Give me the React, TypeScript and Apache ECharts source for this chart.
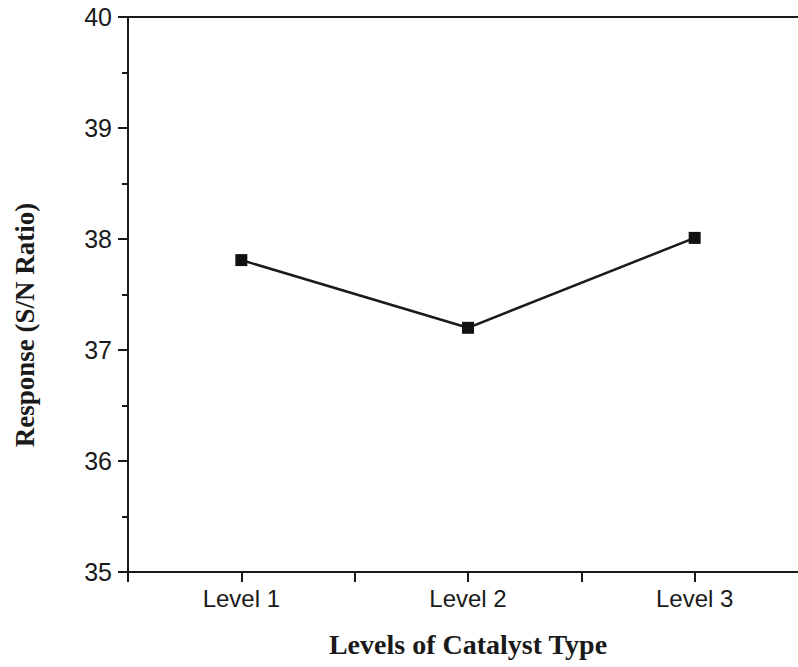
import React, { useEffect, useRef } from "react";
import * as echarts from "echarts";

const categories = ["Level 1", "Level 2", "Level 3"];
const responseValues = [37.81, 37.2, 38.01];
const yTicks = [35, 36, 37, 38, 39, 40];

export default function App() {
  const ref = useRef<HTMLDivElement>(null);
  useEffect(() => {
    if (!ref.current) return;
    const chart = echarts.init(ref.current, null, { renderer: "svg" });
    const ink = "#1a1a1a";
    const data = responseValues.map((v, i) => [i + 1, v]);
    chart.setOption({
      animation: false,
      backgroundColor: "#ffffff",
      grid: { left: 128, top: 17, right: 22, bottom: 95, show: true, borderColor: ink, borderWidth: 2 },
      xAxis: {
        type: "value",
        min: 0.5,
        max: 3.5,
        interval: 0.5,
        name: "Levels of Catalyst Type",
        nameLocation: "middle",
        nameGap: 58,
        nameTextStyle: { fontFamily: "Liberation Serif", fontWeight: "bold", fontSize: 28, color: ink },
        axisLine: { show: true, lineStyle: { color: ink, width: 2 } },
        axisTick: { show: true, inside: false, length: 10, lineStyle: { color: ink, width: 2 } },
        splitLine: { show: false },
        axisLabel: {
          margin: 14,
          fontFamily: "Liberation Sans",
          fontSize: 24,
          color: ink,
          formatter: (v: number) => (Number.isInteger(v) && v >= 1 && v <= categories.length ? categories[v - 1] : ""),
        },
      },
      yAxis: {
        type: "value",
        min: yTicks[0],
        max: yTicks[yTicks.length - 1],
        interval: 1,
        axisLine: { show: true, lineStyle: { color: ink, width: 2 } },
        axisTick: { show: true, inside: false, length: 10, lineStyle: { color: ink, width: 2 } },
        minorTick: { show: true, splitNumber: 2, length: 6, lineStyle: { color: ink, width: 2 } },
        splitLine: { show: false },
        axisLabel: { margin: 16, fontFamily: "Liberation Sans", fontSize: 25, color: ink },
      },
      graphic: [
        {
          type: "text",
          x: 25,
          y: 325,
          rotation: Math.PI / 2,
          style: {
            text: "Response (S/N Ratio)",
            fontFamily: "Liberation Serif",
            fontWeight: "bold",
            fontSize: 27,
            fill: ink,
            textAlign: "center",
            textVerticalAlign: "middle",
          },
        },
      ],
      series: [
        {
          type: "line",
          data,
          symbol: "rect",
          symbolSize: 12,
          lineStyle: { color: ink, width: 2.5 },
          itemStyle: { color: "#111111" },
        },
      ],
    });
    return () => chart.dispose();
  }, []);
  return (
    <div style={{ position: "absolute", left: 0, top: 0, width: 798, height: 667, overflow: "hidden", background: "#fff" }}>
      <div ref={ref} style={{ width: 830, height: 667 }} />
    </div>
  );
}
